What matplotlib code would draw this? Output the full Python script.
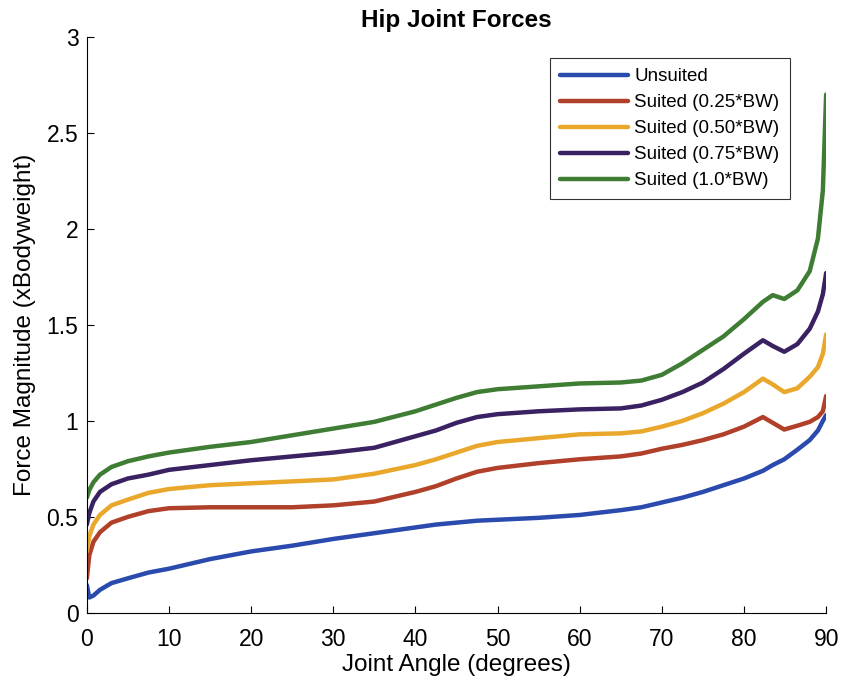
import matplotlib.pyplot as plt
from matplotlib.ticker import FormatStrFormatter

plt.rcParams['font.family'] = ['Liberation Sans', 'DejaVu Sans']

# joint angle samples (degrees)
angle = [0, 0.3, 0.8, 1.6, 3, 5, 7.5, 10, 15, 20, 25, 30, 35, 40, 42.5, 45,
         47.5, 50, 55, 60, 65, 67.5, 70, 72.5, 75, 77.5, 80, 82.3, 83.5,
         84.9, 86.5, 88, 89, 89.6, 90]

unsuited = [0.145, 0.08, 0.09, 0.12, 0.155, 0.18, 0.21, 0.23, 0.28, 0.32,
            0.35, 0.385, 0.415, 0.445, 0.46, 0.47, 0.48, 0.485, 0.495, 0.51,
            0.535, 0.55, 0.575, 0.6, 0.63, 0.665, 0.70, 0.74, 0.77, 0.80,
            0.85, 0.90, 0.95, 1.0, 1.03]
suited_025 = [0.18, 0.30, 0.37, 0.42, 0.47, 0.50, 0.53, 0.545, 0.55, 0.55,
              0.55, 0.56, 0.58, 0.63, 0.66, 0.70, 0.735, 0.755, 0.78, 0.80,
              0.815, 0.83, 0.855, 0.875, 0.90, 0.93, 0.97, 1.02, 0.99, 0.955,
              0.975, 0.995, 1.02, 1.05, 1.13]
suited_050 = [0.32, 0.40, 0.46, 0.51, 0.56, 0.59, 0.625, 0.645, 0.665, 0.675,
              0.685, 0.695, 0.725, 0.77, 0.80, 0.835, 0.87, 0.89, 0.91, 0.93,
              0.935, 0.945, 0.97, 1.0, 1.04, 1.09, 1.15, 1.22, 1.19, 1.15,
              1.17, 1.23, 1.28, 1.35, 1.45]
suited_075 = [0.46, 0.52, 0.58, 0.63, 0.67, 0.70, 0.72, 0.745, 0.77, 0.795,
              0.815, 0.835, 0.86, 0.92, 0.95, 0.99, 1.02, 1.035, 1.05, 1.06,
              1.065, 1.08, 1.11, 1.15, 1.20, 1.27, 1.35, 1.42, 1.39, 1.36,
              1.40, 1.48, 1.57, 1.66, 1.77]
suited_100 = [0.60, 0.64, 0.68, 0.72, 0.76, 0.79, 0.815, 0.835, 0.865, 0.89,
              0.925, 0.96, 0.995, 1.05, 1.085, 1.12, 1.15, 1.165, 1.18, 1.195,
              1.20, 1.21, 1.24, 1.30, 1.37, 1.44, 1.53, 1.62, 1.655, 1.635,
              1.68, 1.78, 1.95, 2.2, 2.7]

labels = ['Unsuited', 'Suited (0.25*BW)', 'Suited (0.50*BW)',
          'Suited (0.75*BW)', 'Suited (1.0*BW)']
colors = ['#2A4AAE', '#B0402A', '#E9A72C', '#3A2262', '#3F7D34']

fig = plt.figure(figsize=(8.43, 6.84), dpi=100)
ax = fig.add_axes([0.103, 0.104, 0.877, 0.842])

for series, label, color in zip([unsuited, suited_025, suited_050, suited_075, suited_100],
                                labels, colors):
    ax.plot(angle, series, color=color, lw=3.2, label=label,
            solid_joinstyle='round', solid_capstyle='round')

ax.set_xlim(0, 90)
ax.set_ylim(0, 3)
ax.set_xticks(range(0, 91, 10))
ax.set_yticks([0, 0.5, 1, 1.5, 2, 2.5, 3])
ax.yaxis.set_major_formatter(FormatStrFormatter('%g'))
ax.tick_params(direction='in', length=5, width=0.8, labelsize=16.5)
ax.tick_params(axis='x', pad=11)
ax.tick_params(axis='y', pad=6)

for side in ['top', 'right']:
    ax.spines[side].set_visible(False)
for side in ['left', 'bottom']:
    ax.spines[side].set_linewidth(0.8)

ax.set_xlabel('Joint Angle (degrees)', fontsize=17.5, labelpad=2)
ax.set_ylabel('Force Magnitude (xBodyweight)', fontsize=17.5, labelpad=8)
ax.set_title('Hip Joint Forces', fontsize=17.5, fontweight='bold', pad=7)

leg = ax.legend(loc='upper right', bbox_to_anchor=(0.951, 0.9635), borderaxespad=0,
                fontsize=13.5, frameon=True, fancybox=False, handlelength=3.6,
                borderpad=0.55, labelspacing=0.47, handletextpad=0.35)
leg.get_frame().set_edgecolor('black')
leg.get_frame().set_linewidth(0.8)

fig.savefig('out.png', dpi=100)
